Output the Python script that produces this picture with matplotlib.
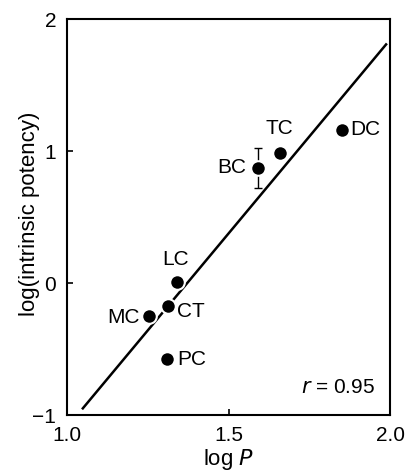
import matplotlib
matplotlib.use("Agg")
import matplotlib.pyplot as plt
import numpy as np

plt.rcParams['font.family'] = ['Liberation Sans', 'DejaVu Sans']

labels = ["DC", "TC", "BC", "LC", "CT", "MC", "PC"]
logP = [1.849, 1.657, 1.589, 1.340, 1.311, 1.253, 1.310]
logIP = [1.16, 0.985, 0.873, 0.01, -0.174, -0.25, -0.576]
bc_err = 0.15
fit_x = [1.048, 1.987]
fit_slope = 2.936
fit_intercept = -4.026

fig = plt.figure(figsize=(4.13, 4.76), dpi=100)
ax = fig.add_axes([0.163, 0.128, 0.782, 0.832])

fx = np.array(fit_x)
ax.plot(fx, fit_slope * fx + fit_intercept, color='black', lw=1.8, zorder=1)
ax.errorbar([logP[2]], [logIP[2]], yerr=[bc_err], fmt='none', ecolor='black',
            elinewidth=1.0, capsize=3, capthick=1.0, zorder=2)
ax.plot(logP, logIP, 'o', ms=10.5, mfc='black', mec='white', mew=1.5, zorder=3, ls='none')

fs = 15
offsets = {
    "DC": (6, 0, 'left', 'center'),
    "TC": (0, 11, 'center', 'bottom'),
    "BC": (-8, 0, 'right', 'center'),
    "LC": (-1, 9, 'center', 'bottom'),
    "CT": (7, -4, 'left', 'center'),
    "MC": (-7, -1, 'right', 'center'),
    "PC": (7, 0, 'left', 'center'),
}
for lab, x, y in zip(labels, logP, logIP):
    dx, dy, ha, va = offsets[lab]
    ax.annotate(lab, (x, y), xytext=(dx, dy), textcoords='offset points',
                ha=ha, va=va, fontsize=fs)

ax.text(0.953, 0.056, r"$\it{r}$ = 0.95", transform=ax.transAxes, ha='right',
        va='baseline', fontsize=fs)

ax.set_xlim(1.0, 2.0)
ax.set_ylim(-1, 2)
ax.set_xticks([1.0, 1.5, 2.0])
ax.set_xticklabels(["1.0", "1.5", "2.0"])
ax.set_yticks([-1, 0, 1, 2])
ax.set_yticklabels(["\u22121", "0", "1", "2"])
ax.tick_params(direction='in', length=4, width=1.2, labelsize=fs, pad=8)
for s in ax.spines.values():
    s.set_linewidth(1.5)
ax.set_xlabel(r"log $\it{P}$", fontsize=16, labelpad=1)
ax.set_ylabel("log(intrinsic potency)", fontsize=16)
ax.yaxis.set_label_coords(-0.085, 0.508)

fig.savefig("out.png", dpi=100)
